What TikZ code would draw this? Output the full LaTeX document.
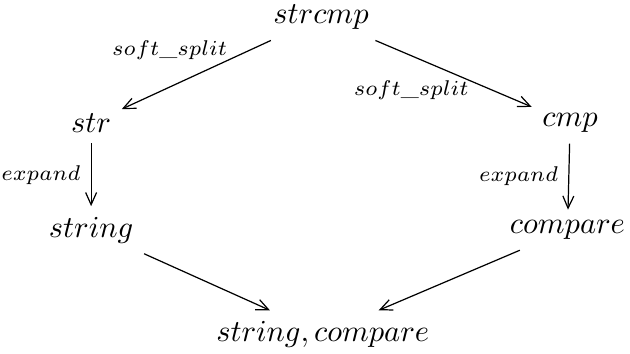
\documentclass[tikz,border=0pt]{standalone}
\usepackage{mathtools}
\usepackage{tikz}
\usetikzlibrary{arrows.meta}

\begin{document}
\begin{tikzpicture}[>={Straight Barb[length=4pt,width=3.6pt]},
  lbl/.style={font=\scriptsize}, split/.style={font=\scriptsize, inner sep=0pt}]
\useasboundingbox (0,0) rectangle (7.26,4.07);
\node (strcmp) at (3.70,3.87) {$strcmp$};
\node (str) at (1.05,2.65) {$str$};
\node (cmp) at (6.57,2.65) {$cmp$};
\node (string) at (1.05,1.42) {$string$};
\node (compare) at (6.54,1.42) {$compare$};
\node (both) at (3.72,0.22) {$string, compare$};

\draw[->] (strcmp) -- node[split,pos=0.29,above left] {$soft\_split$} (str);
\draw[->] (strcmp) -- node[split,pos=0.6,below left] {$soft\_split$} (cmp);
\draw[->] (str) -- node[lbl,left] {$expand$} (string);
\draw[->] (cmp) -- node[lbl,left] {$expand$} (compare);
\draw[->] (string) -- (both);
\draw[->] (compare) -- (both);
\end{tikzpicture}
\end{document}
